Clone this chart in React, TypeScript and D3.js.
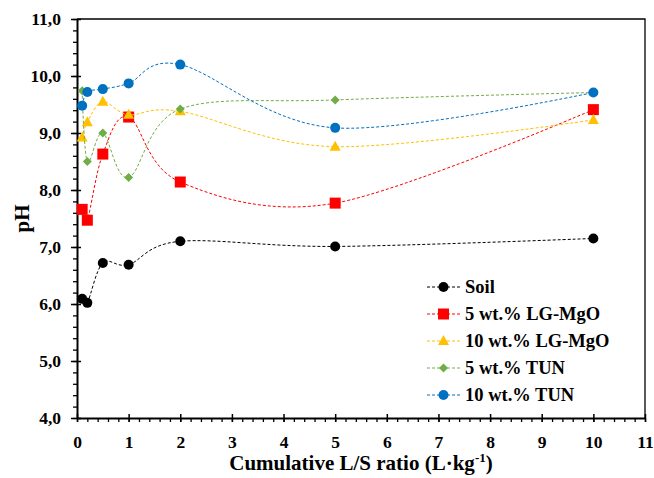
import React, { useEffect, useRef } from 'react';
import * as d3 from 'd3';

// cumulative L/S ratio (L/kg)
const lsRatio = [0.1, 0.2, 0.5, 1, 2, 5, 10];

const soil = [6.09, 6.02, 6.72, 6.69, 7.1, 7.01, 7.15];
const lgMgo5 = [7.66, 7.47, 8.63, 9.28, 8.14, 7.77, 9.41];
const lgMgo10 = [8.92, 9.19, 9.55, 9.32, 9.38, 8.76, 9.23];
const tun5 = [9.74, 8.5, 9.0, 8.22, 9.42, 9.58, 9.71];
const tun10 = [9.48, 9.72, 9.77, 9.87, 10.2, 9.09, 9.71];

const seriesNames = ['Soil', '5 wt.% LG-MgO', '10 wt.% LG-MgO', '5 wt.% TUN', '10 wt.% TUN'];
const seriesColors = ['#000000', '#FF0000', '#FFC000', '#70AD47', '#0070C0'];
const seriesMarkers = ['circle', 'square', 'triangle', 'diamond', 'circle'];

const xTicks = d3.range(0, 12, 1);
const yTicks = d3.range(4, 11.5, 1);

const W = 654, H = 478;
const margin = { top: 19, right: 9, bottom: 60, left: 77 };

const drawMarker = (g, kind, color, cx, cy) => {
  if (kind === 'circle') {
    g.append('circle').attr('cx', cx).attr('cy', cy).attr('r', 5).attr('fill', color);
  } else if (kind === 'square') {
    g.append('rect').attr('x', cx - 5.5).attr('y', cy - 5.5).attr('width', 11).attr('height', 11).attr('fill', color);
  } else if (kind === 'triangle') {
    g.append('path').attr('d', `M${cx},${cy - 6}L${cx + 5.5},${cy + 4}L${cx - 5.5},${cy + 4}Z`).attr('fill', color);
  } else {
    g.append('path').attr('d', `M${cx},${cy - 4.5}L${cx + 4.5},${cy}L${cx},${cy + 4.5}L${cx - 4.5},${cy}Z`).attr('fill', color);
  }
};

export default function App() {
  const ref = useRef<SVGSVGElement>(null);

  useEffect(() => {
    const svg = d3.select(ref.current);
    svg.selectAll('*').remove();
    const width = W - margin.left - margin.right;
    const height = H - margin.top - margin.bottom;

    const x = d3.scaleLinear().domain([0, 11]).range([0, width]);
    const y = d3.scaleLinear().domain([4, 11]).range([height, 0]);

    const g = svg.append('g').attr('transform', `translate(${margin.left}, ${margin.top})`);
    const font = "'Liberation Serif', 'Times New Roman', serif";

    // frame (top + right)
    g.append('path').attr('d', `M0,0H${width}V${height}`).attr('fill', 'none').attr('stroke', '#000').attr('stroke-width', 1.3);

    // minor ticks
    const xMinor = d3.range(0, 11.01, 0.2);
    const yMinor = d3.range(4, 11.01, 0.2);
    g.append('g').attr('transform', `translate(0, ${height})`)
      .call(d3.axisBottom(x).tickValues(xMinor).tickSize(4).tickFormat(() => ''))
      .call((a) => a.select('.domain').remove())
      .selectAll('line').attr('stroke-width', 1.3);
    g.append('g')
      .call(d3.axisLeft(y).tickValues(yMinor).tickSize(4).tickFormat(() => ''))
      .call((a) => a.select('.domain').remove())
      .selectAll('line').attr('stroke-width', 1.3);

    // major axes
    const xAxis = g.append('g').attr('transform', `translate(0, ${height})`)
      .call(d3.axisBottom(x).tickValues(xTicks).tickSizeOuter(0).tickPadding(12).tickFormat(d3.format('d')));
    xAxis.selectAll('.tick line').attr('y1', -4).attr('y2', 4).attr('stroke-width', 1.5);
    xAxis.select('.domain').attr('stroke-width', 2);
    xAxis.selectAll('text').attr('font-family', font).attr('font-weight', 'bold').attr('font-size', 17.5);

    const yAxis = g.append('g')
      .call(d3.axisLeft(y).tickValues(yTicks).tickSizeOuter(0).tickPadding(10)
        .tickFormat((d) => d3.format('.1f')(d).replace('.', ',')));
    yAxis.selectAll('.tick line').attr('x1', -6).attr('x2', 4).attr('stroke-width', 1.5);
    yAxis.select('.domain').attr('stroke-width', 2);
    yAxis.selectAll('text').attr('font-family', font).attr('font-weight', 'bold').attr('font-size', 17.5);

    // axis titles
    const xt = svg.append('text').attr('x', margin.left + width / 2).attr('y', 470)
      .attr('text-anchor', 'middle').attr('font-family', font).attr('font-weight', 'bold').attr('font-size', 21);
    xt.append('tspan').text('Cumulative L/S ratio (L·kg');
    xt.append('tspan').attr('dy', -8).attr('font-size', 13).text('-1');
    xt.append('tspan').attr('dy', 8).text(')');

    svg.append('text').attr('transform', `translate(29, ${margin.top + height / 2}) rotate(-90)`)
      .attr('text-anchor', 'middle').attr('font-family', font).attr('font-weight', 'bold').attr('font-size', 21)
      .text('pH');

    // series
    const allSeries = [soil, lgMgo5, lgMgo10, tun5, tun10];
    const line = d3.line<number>()
      .x((_, i) => x(lsRatio[i]))
      .y((d) => y(d))
      .curve(d3.curveCardinal.tension(0));

    allSeries.forEach((vals, si) => {
      const color = seriesColors[si];
      g.append('path').datum(vals).attr('d', line).attr('fill', 'none')
        .attr('stroke', color).attr('stroke-width', 1).attr('stroke-dasharray', '3,2');
      const mg = g.append('g');
      vals.forEach((v, i) => drawMarker(mg, seriesMarkers[si], color, x(lsRatio[i]), y(v)));
    });

    // legend
    const lg = svg.append('g');
    seriesNames.forEach((name, i) => {
      const ly = 287 + i * 27;
      lg.append('line').attr('x1', 427).attr('x2', 460).attr('y1', ly).attr('y2', ly)
        .attr('stroke', seriesColors[i]).attr('stroke-width', 1).attr('stroke-dasharray', '3,2');
      drawMarker(lg, seriesMarkers[i], seriesColors[i], 443.5, ly);
      lg.append('text').attr('x', 465).attr('y', ly + 6).attr('font-family', font)
        .attr('font-weight', 'bold').attr('font-size', 18.5).text(name);
    });
  }, []);

  return (
    <svg ref={ref} width={W} height={H} style={{ position: 'absolute', left: 0, top: 0, background: '#fff' }} />
  );
}
